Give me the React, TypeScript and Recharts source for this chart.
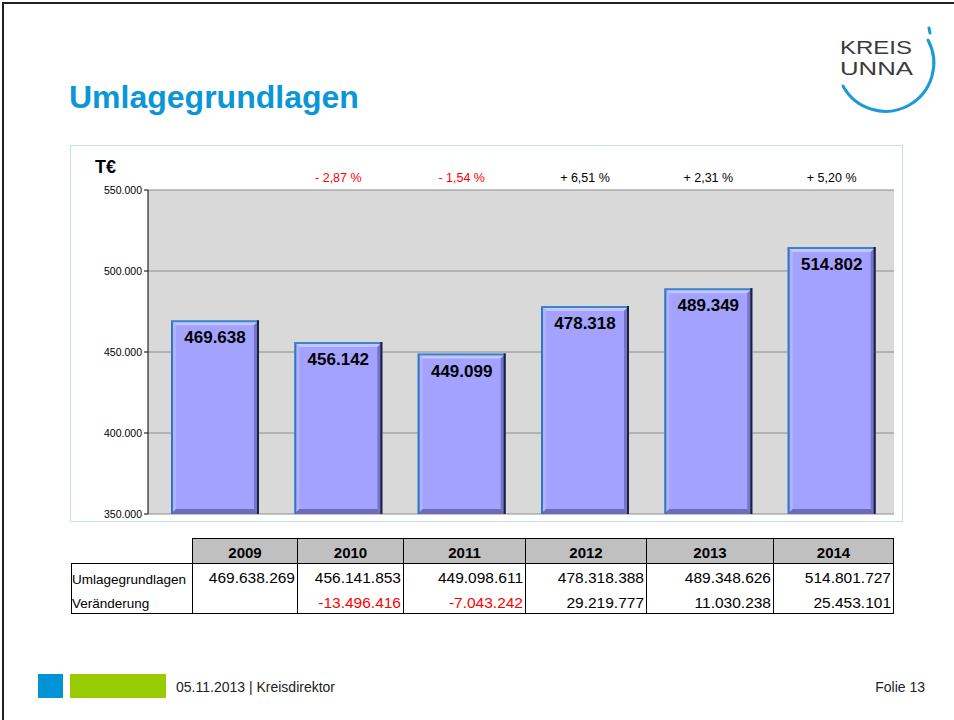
import React from 'react';
import { BarChart, Bar, XAxis, YAxis, CartesianGrid, LabelList } from 'recharts';

const years = ['2009', '2010', '2011', '2012', '2013', '2014'];
const umlageEuro = [469638269, 456141853, 449098611, 478318388, 489348626, 514801727];
const changeEuro = [null, -13496416, -7043242, 29219777, 11030238, 25453101];
const changePct = ['', '- 2,87 %', '- 1,54 %', '+ 6,51 %', '+ 2,31 %', '+ 5,20 %'];
const yTicks = [350000, 400000, 450000, 500000, 550000];

const dots = (n: number) => {
  const s = String(Math.abs(n)).replace(/\B(?=(\d{3})+(?!\d))/g, '.');
  return n < 0 ? '-' + s : s;
};

const data = years.map((y, i) => ({
  year: y,
  value: Math.round(umlageEuro[i] / 1000),
  pct: changePct[i],
}));

const FONT = "'Liberation Sans', Arial, Helvetica, sans-serif";
const NARROW = "'Liberation Sans Narrow', 'Arial Narrow', 'Liberation Sans', sans-serif";
const chartMargin = { top: 45, right: 10, bottom: 0, left: 0 };
const xPad = { left: 5, right: 1 };

const BevelBar = (props: any) => {
  const { x, y, width: w, height: h } = props;
  if (!w || !h) return null;
  const b = 5;
  return (
    <g>
      <rect x={x} y={y} width={w} height={h} fill="#A3A3FF" />
      <polygon points={`${x},${y} ${x + w},${y} ${x + w - b},${y + b} ${x + b},${y + b}`} fill="#C6C6FF" />
      <polygon points={`${x},${y} ${x + b},${y + b} ${x + b},${y + h - b} ${x},${y + h}`} fill="#B2B2FF" />
      <polygon points={`${x + w},${y} ${x + w},${y + h} ${x + w - b},${y + h - b} ${x + w - b},${y + b}`} fill="#7474CC" />
      <polygon points={`${x},${y + h} ${x + w},${y + h} ${x + w - b},${y + h - b} ${x + b},${y + h - b}`} fill="#6C6CB8" />
      <line x1={x + 1} y1={y + h} x2={x + 1} y2={y + 1} stroke="#2F78BE" strokeWidth={2} />
      <line x1={x} y1={y + 1} x2={x + w} y2={y + 1} stroke="#3A86CC" strokeWidth={2} />
      <line x1={x + w - 1} y1={y} x2={x + w - 1} y2={y + h} stroke="#1B2238" strokeWidth={2} />
    </g>
  );
};

const PctLabel = (props: any) => {
  const vb = props.viewBox || props;
  const { value } = props;
  if (!value) return null;
  return (
    <text
      x={vb.x + vb.width / 2}
      y={chartMargin.top - 8}
      textAnchor="middle"
      fontSize={12.5}
      fontFamily={FONT}
      fill={String(value).startsWith('-') ? '#FF0000' : '#000000'}
    >
      {value}
    </text>
  );
};

const cols = [192, 297, 403, 525, 646, 773, 893];

const cell = (left: number, top: number, width: number, height: number, extra: React.CSSProperties = {}) => ({
  position: 'absolute' as const,
  left,
  top,
  width,
  height,
  boxSizing: 'border-box' as const,
  ...extra,
});

const DataTable = () => {
  const rowTop = 563;
  const rowH = 25;
  return (
    <>
      {years.map((y, i) => (
        <div
          key={'h' + y}
          style={cell(cols[i], 538, cols[i + 1] - cols[i] + 1, 26, {
            background: '#C0C0C0',
            border: '1px solid #000',
            textAlign: 'center',
            fontWeight: 'bold',
            fontSize: 15,
            lineHeight: '26px',
            paddingTop: 1,
          })}
        >
          {y}
        </div>
      ))}
      <div style={cell(71, rowTop, cols[6] - 71 + 1, rowH * 2 + 1, { border: '1px solid #000' })} />
      {cols.slice(0, 6).map((c) => (
        <div key={'v' + c} style={cell(c, rowTop, 1, rowH * 2, { background: '#000' })} />
      ))}
      <div style={cell(72, rowTop + 7, 120, 20, { fontSize: 13.5, lineHeight: '20px' })}>Umlagegrundlagen</div>
      <div style={cell(72, rowTop + rowH + 6, 120, 20, { fontSize: 13.5, lineHeight: '20px' })}>Veränderung</div>
      {umlageEuro.map((v, i) => (
        <div
          key={'u' + i}
          style={cell(cols[i], rowTop + 5, cols[i + 1] - cols[i], 20, {
            textAlign: 'right',
            fontSize: 15.5,
            lineHeight: '20px',
            paddingRight: 2,
          })}
        >
          {dots(v)}
        </div>
      ))}
      {changeEuro.map((v, i) => (
        <div
          key={'c' + i}
          style={cell(cols[i], rowTop + rowH + 5, cols[i + 1] - cols[i], 20, {
            textAlign: 'right',
            fontSize: 15.5,
            lineHeight: '20px',
            paddingRight: 2,
            color: v !== null && v < 0 ? '#FF0000' : '#000',
          })}
        >
          {v === null ? '' : dots(v)}
        </div>
      ))}
    </>
  );
};

const Logo = () => (
  <svg width={954} height={140} style={{ position: 'absolute', left: 0, top: 0 }}>
    <text x={840} y={54} fontSize={19} fontFamily={NARROW} fill="#3A3A3A" textLength={72} lengthAdjust="spacingAndGlyphs">
      KREIS
    </text>
    <text x={840} y={75} fontSize={19} fontFamily={NARROW} fill="#3A3A3A" textLength={73} lengthAdjust="spacingAndGlyphs">
      UNNA
    </text>
    <path d="M 928 40 A 47 47 0 0 1 843 86" fill="none" stroke="#1A9AD6" strokeWidth={3} strokeLinecap="round" />
    <line x1={929} y1={28} x2={930} y2={33} stroke="#1A9AD6" strokeWidth={3} strokeLinecap="round" />
  </svg>
);

export default function App() {
  return (
    <div
      style={{
        position: 'absolute',
        left: 0,
        top: 0,
        width: 954,
        height: 720,
        overflow: 'hidden',
        background: '#fff',
        fontFamily: FONT,
        color: '#000',
      }}
    >
      <div style={{ position: 'absolute', left: 2, top: 2, width: 2, height: 718, background: '#222' }} />
      <div style={{ position: 'absolute', left: 2, top: 2, width: 952, height: 2, background: '#222' }} />
      <Logo />
      <div
        style={{
          position: 'absolute',
          left: 69,
          top: 79,
          fontSize: 32,
          fontWeight: 'bold',
          color: '#0B96D8',
          lineHeight: '36px',
        }}
      >
        Umlagegrundlagen
      </div>

      <div
        style={{
          position: 'absolute',
          left: 70,
          top: 145,
          width: 833,
          height: 377,
          border: '1px solid #C5DCF0',
          boxSizing: 'border-box',
        }}
      />
      <div style={{ position: 'absolute', left: 95, top: 157, fontSize: 18, fontWeight: 'bold' }}>T€</div>
      <div style={{ position: 'absolute', left: 70, top: 145 }}>
        <BarChart width={834} height={378} data={data} margin={chartMargin}>
          <CartesianGrid vertical={false} stroke="#8C8C8C" fill="#D9D9D9" />
          <XAxis dataKey="year" hide padding={xPad} />
          <XAxis
            xAxisId="edges"
            type="number"
            domain={[0, 6]}
            ticks={[0, 1, 2, 3, 4, 5, 6]}
            allowDataOverflow
            padding={xPad}
            tick={false}
            tickSize={4}
            tickLine={{ stroke: '#999' }}
            axisLine={{ stroke: '#000' }}
            height={9}
          />
          <YAxis
            domain={[350000, 550000]}
            ticks={yTicks}
            allowDataOverflow
            width={78}
            tickSize={4}
            tickLine={{ stroke: '#000' }}
            axisLine={{ stroke: '#000' }}
            tick={{ fontSize: 10.5, fill: '#000', fontFamily: FONT }}
            tickFormatter={(v: number) => dots(v)}
          />
          <Bar dataKey="value" barSize={88} shape={<BevelBar />} isAnimationActive={false}>
            <LabelList
              dataKey="value"
              position="insideTop"
              offset={11}
              formatter={(v: any) => dots(Number(v))}
              style={{ fontSize: 17, fontWeight: 'bold', fill: '#000', fontFamily: FONT }}
            />
            <LabelList dataKey="pct" content={<PctLabel />} />
          </Bar>
        </BarChart>
      </div>

      <DataTable />

      <div style={{ position: 'absolute', left: 38, top: 674, width: 25, height: 24, background: '#0093D5' }} />
      <div style={{ position: 'absolute', left: 70, top: 674, width: 96, height: 24, background: '#99CC00' }} />
      <div style={{ position: 'absolute', left: 176, top: 679, fontSize: 14, fontFamily: NARROW, color: '#222' }}>
        05.11.2013 | Kreisdirektor
      </div>
      <div
        style={{
          position: 'absolute',
          right: 29,
          top: 679,
          fontSize: 14,
          fontFamily: NARROW,
          color: '#222',
        }}
      >
        Folie 13
      </div>
    </div>
  );
}
